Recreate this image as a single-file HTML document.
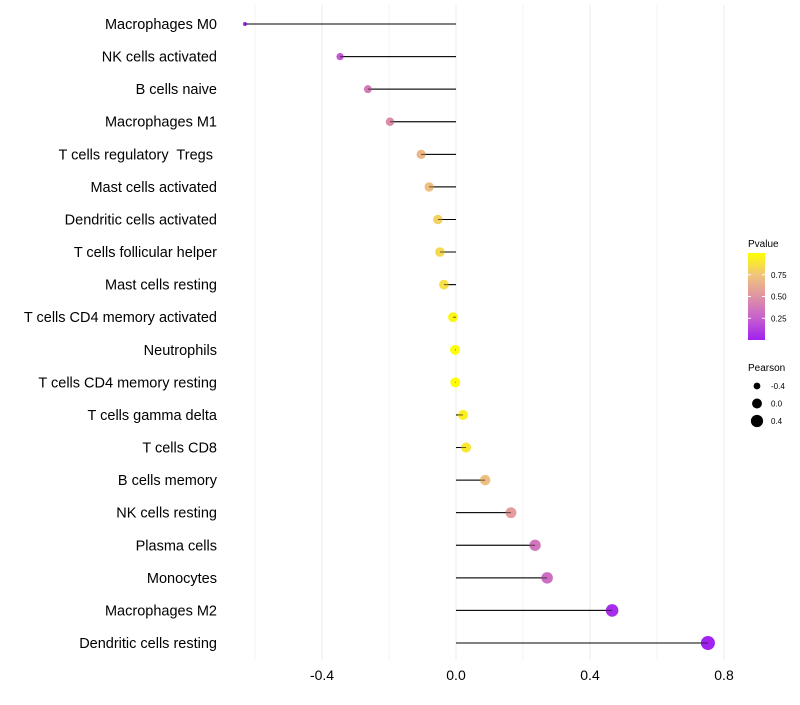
<!DOCTYPE html>
<html><head><meta charset="utf-8"><style>
body{margin:0;background:#fff;font-family:"Liberation Sans",sans-serif;}
svg text{font-family:"Liberation Sans",sans-serif;white-space:pre;}
</style></head><body>
<svg id="chart" width="800" height="700"></svg>
<script>
const categories=["Macrophages M0","NK cells activated","B cells naive","Macrophages M1","T cells regulatory  Tregs ","Mast cells activated","Dendritic cells activated","T cells follicular helper","Mast cells resting","T cells CD4 memory activated","Neutrophils","T cells CD4 memory resting","T cells gamma delta","T cells CD8","B cells memory","NK cells resting","Plasma cells","Monocytes","Macrophages M2","Dendritic cells resting"];
const pearson=[-0.63,-0.346,-0.263,-0.197,-0.104,-0.08,-0.054,-0.048,-0.036,-0.009,-0.003,-0.002,0.021,0.03,0.087,0.164,0.236,0.272,0.466,0.752];
const pvalue=[0.01,0.22,0.38,0.47,0.68,0.72,0.8,0.83,0.86,0.96,0.99,0.99,0.93,0.9,0.72,0.55,0.36,0.32,0.05,0.01];
const xTicks=[-0.4,0.0,0.4,0.8];
const xTickLabels=["-0.4","0.0","0.4","0.8"];
const colorTicks=[0.25,0.5,0.75];
const sizeTicks=[-0.4,0.0,0.4];

const NS="http://www.w3.org/2000/svg";
const svg=document.getElementById('chart');
function mk(t,a,p){const e=document.createElementNS(NS,t);for(const k in a)e.setAttribute(k,a[k]);(p||svg).appendChild(e);return e;}
const x=v=>456+v*335;
const y=i=>24+i*(643-24)/19;
const stops=[[0,[160,32,240]],[0.25,[198,95,206]],[0.5,[223,147,164]],[0.75,[240,197,122]],[1,[255,255,0]]];
function col(p){for(let i=1;i<stops.length;i++){if(p<=stops[i][0]){const a=stops[i-1],b=stops[i];const t=(p-a[0])/(b[0]-a[0]);const c=a[1].map((v,j)=>Math.round(v+(b[1][j]-v)*t));return `rgb(${c})`;}}return 'rgb(255,255,0)';}
const pmin=-0.63,pmax=0.752;
const rad=v=>Math.sqrt(4+(49-4)*(v-pmin)/(pmax-pmin));

for(let v=-0.6;v<=0.81;v+=0.2){const g=mk('line',{x1:x(v),x2:x(v),y1:5,y2:660,stroke:'#ebebeb','stroke-width':(Math.abs(Math.round(v*10))%4===0)?1:0.6});
}
xTicks.forEach((v,i)=>{const t=mk('text',{x:x(v),y:680,'text-anchor':'middle','font-size':14,fill:'#000'});t.textContent=xTickLabels[i];
});

categories.forEach((c,i)=>{
 const t=mk('text',{x:217,y:y(i)+5,'text-anchor':'end','font-size':14.5,fill:'#000'});t.textContent=c;
 
 const l=mk('line',{x1:x(0),x2:x(pearson[i]),y1:y(i),y2:y(i),stroke:'#000','stroke-width':1});
 
 const d=mk('circle',{cx:x(pearson[i]),cy:y(i),r:rad(pearson[i]),fill:col(pvalue[i])});
 
 const l2=mk('line',{x1:x(0),x2:x(pearson[i]),y1:y(i),y2:y(i),stroke:'#000','stroke-width':1,opacity:0.6});
 
});

const lg=mk('g',{});
const tt=mk('text',{x:748,y:247,'font-size':10},lg);tt.textContent='Pvalue';
const defs=mk('defs',{});const gr=mk('linearGradient',{id:'gb',x1:0,y1:1,x2:0,y2:0},defs);
stops.forEach(s=>mk('stop',{offset:s[0],'stop-color':`rgb(${s[1]})`},gr));
const cb=mk('rect',{x:748,y:253,width:17,height:87,fill:'url(#gb)'},lg);
colorTicks.forEach(v=>{const yy=340-v*87;mk('line',{x1:748,x2:751,y1:yy,y2:yy,stroke:'#fff'},lg);mk('line',{x1:762,x2:765,y1:yy,y2:yy,stroke:'#fff'},lg);
 const t=mk('text',{x:771,y:yy+3,'font-size':8},lg);t.textContent=v.toFixed(2);});
const sg=mk('g',{});
const st=mk('text',{x:748,y:371,'font-size':10},sg);st.textContent='Pearson';
sizeTicks.forEach((v,i)=>{const yy=386+i*17.5;mk('circle',{cx:757,cy:yy,r:rad(v),fill:'#000'},sg);
 const t=mk('text',{x:771,y:yy+3,'font-size':8},sg);t.textContent=v.toFixed(1);});
</script>
</body></html>
